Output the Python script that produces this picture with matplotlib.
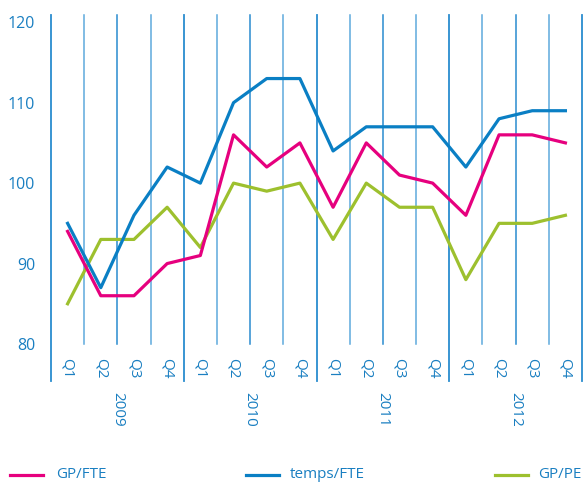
import matplotlib
matplotlib.use("Agg")
import matplotlib.pyplot as plt
from matplotlib.lines import Line2D
import matplotlib.transforms as mtransforms

plt.rcParams['font.family'] = ['Open Sans', 'DejaVu Sans']

years = ["2009", "2010", "2011", "2012"]
quarters = ["Q1", "Q2", "Q3", "Q4"]
gp_fte = [94, 86, 86, 90, 91, 106, 102, 105, 97, 105, 101, 100, 96, 106, 106, 105]
temps_fte = [95, 87, 96, 102, 100, 110, 113, 113, 104, 107, 107, 107, 102, 108, 109, 109]
gp_pe = [85, 93, 93, 97, 92, 100, 99, 100, 93, 100, 97, 97, 88, 95, 95, 96]
y_ticks = [80, 90, 100, 110, 120]

PINK = "#e6007e"
BLUE = "#0a7fc4"
GREEN = "#9dc02e"
TXT = "#1a7fc1"
GRID = "#2a8ccf"


def main():
    fig = plt.figure(figsize=(5.85, 4.82), dpi=100)
    ax = fig.add_axes([51 / 585, 1 - 344 / 482, 531 / 585, 329 / 482])
    n = len(gp_fte)
    x = list(range(n))

    ax.set_xlim(-0.5, n - 0.5)
    ax.set_ylim(80, 120.9)
    trans = mtransforms.blended_transform_factory(ax.transData, ax.transAxes)

    # vertical separators
    for k in range(n + 1):
        b = k - 0.5
        if k % 4 == 0:
            ax.plot([b, b], [-0.112, 1], color=GRID, lw=1.3,
                    transform=trans, clip_on=False, zorder=1)
        else:
            c = "#5eaadd" if k % 2 == 1 else GRID
            ax.plot([b, b], [0, 1], color=c, lw=1.1, transform=trans,
                    clip_on=False, zorder=1)

    ax.plot(x, gp_fte, color=PINK, lw=2.3, zorder=3)
    ax.plot(x, temps_fte, color=BLUE, lw=2.3, zorder=4)
    ax.plot(x, gp_pe, color=GREEN, lw=2.3, zorder=2)

    for s in ax.spines.values():
        s.set_visible(False)
    ax.set_xticks([])
    ax.set_yticks(y_ticks)
    ax.tick_params(axis='y', length=0, pad=11.5, labelsize=11.5, labelcolor=TXT)

    for i in range(n):
        ax.text(i, -0.073, quarters[i % 4], transform=trans, rotation=-90,
                ha='center', va='center', fontsize=11, color=TXT)
    for j, yr in enumerate(years):
        ax.text(4 * j + 1.5, -0.2, yr, transform=trans, rotation=-90,
                ha='center', va='center', fontsize=11, color=TXT)

    # legend along the bottom
    ly = 1 - 475 / 482
    items = [(10, 56, "GP/FTE", PINK), (246, 290, "temps/FTE", BLUE),
             (495, 538, "GP/PE", GREEN)]
    for px, tx, label, col in items:
        fig.add_artist(Line2D([px / 585, (px + 33) / 585], [ly, ly],
                              color=col, lw=2.3, transform=fig.transFigure))
        fig.text(tx / 585, ly, label, ha='left', va='center',
                 fontsize=11, color=TXT)

    fig.savefig("out.png", dpi=100)


if __name__ == "__main__":
    main()
